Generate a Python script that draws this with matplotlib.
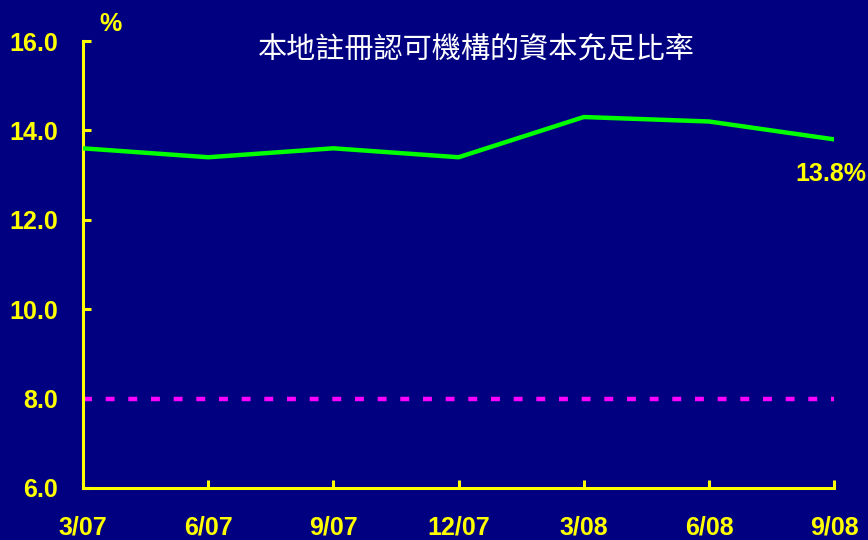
import numpy as np
import matplotlib.pyplot as plt

quarters = ['3/07', '6/07', '9/07', '12/07', '3/08', '6/08', '9/08']
car = [13.6, 13.4, 13.6, 13.4, 14.3, 14.2, 13.8]
minimum = 8.0
yticks = [6.0, 8.0, 10.0, 12.0, 14.0, 16.0]

bg = '#000080'
yellow = '#FFFF00'

fig = plt.figure(figsize=(8.68, 5.40), dpi=100, facecolor=bg)
ax = fig.add_axes([0.0956, 0.0963, 0.8654, 0.8277])
ax.set_facecolor(bg)

x = np.arange(len(quarters))
ax.plot(x, car, color='#00FF00', lw=3.2, solid_capstyle='butt', zorder=3)
# minimum ratio line
ax.plot([x[0], x[-1]], [minimum, minimum], color='#FF00FF', lw=3.2,
        dashes=(2.0, 3.1), solid_capstyle='butt', zorder=2)

ax.set_xlim(0, len(quarters) - 1)
ax.set_ylim(6, 16)
ax.set_xticks(x)
ax.set_xticklabels(quarters)
ax.set_yticks(yticks)
ax.set_yticklabels(['%.1f' % v for v in yticks])

for side in ['top', 'right']:
    ax.spines[side].set_visible(False)
for side in ['left', 'bottom']:
    ax.spines[side].set_color(yellow)
    ax.spines[side].set_linewidth(2.2)

font = ['Liberation Sans', 'DejaVu Sans']
ax.tick_params(axis='both', direction='in', colors=yellow, length=6, width=2.2)
ax.tick_params(axis='x', pad=20)
ax.tick_params(axis='y', pad=18)
for lab in ax.get_xticklabels() + ax.get_yticklabels():
    lab.set_fontfamily(font)
    lab.set_fontweight('bold')
    lab.set_fontsize(18)

fig.text(0.127, 0.955, '%', color=yellow, fontsize=18, fontweight='bold',
         family=font, ha='center', va='center')
fig.text(0.549, 0.907, '本地註冊認可機構的資本充足比率', color='white',
         fontsize=21, family=['Noto Sans CJK TC', 'DejaVu Sans'],
         ha='center', va='center')
ax.annotate('%.1f%%' % car[-1], xy=(x[-1], car[-1]), xytext=(-2, -25),
            textcoords='offset points', color=yellow, fontsize=18,
            fontweight='bold', family=font, ha='center', va='center',
            annotation_clip=False)

fig.savefig('out.png', dpi=100, facecolor=bg)
